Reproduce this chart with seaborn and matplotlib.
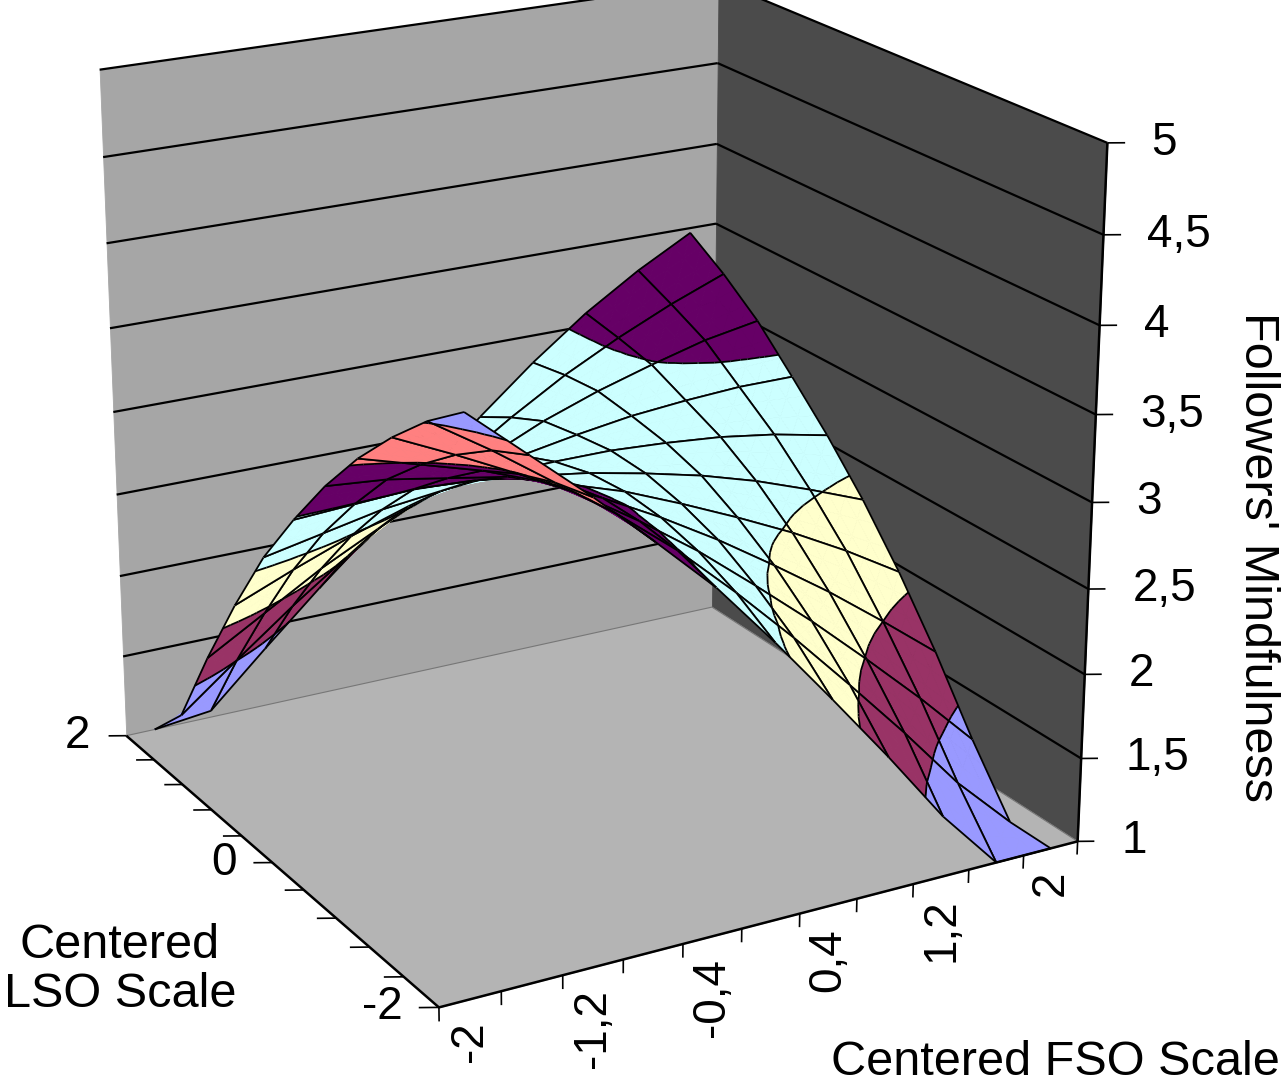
import numpy as np
import pandas as pd
import seaborn as sns
import matplotlib
matplotlib.use("Agg")
import matplotlib.pyplot as plt
from matplotlib.transforms import offset_copy
from mpl_toolkits.mplot3d import proj3d
from mpl_toolkits.mplot3d.art3d import Poly3DCollection, Line3DCollection

# categories of the two centered predictors
fso = [-2.0, -1.6, -1.2, -0.8, -0.4, 0.0, 0.4, 0.8, 1.2, 1.6, 2.0]
lso = [-2.0, -1.6, -1.2, -0.8, -0.4, 0.0, 0.4, 0.8, 1.2, 1.6, 2.0]

# followers' mindfulness: one row per LSO value (-2 .. 2), one column per FSO value (-2 .. 2)
mindfulness = [
    [4.19, 3.90, 3.61, 3.30, 2.98, 2.60, 2.20, 1.79, 1.36, 0.92, 0.46],
    [4.02, 3.80, 3.56, 3.32, 3.05, 2.74, 2.41, 2.06, 1.70, 1.32, 0.92],
    [3.81, 3.65, 3.48, 3.30, 3.08, 2.84, 2.57, 2.29, 1.99, 1.68, 1.35],
    [3.57, 3.47, 3.37, 3.24, 3.08, 2.90, 2.70, 2.48, 2.25, 2.00, 1.74],
    [3.29, 3.26, 3.20, 3.14, 3.03, 2.92, 2.78, 2.63, 2.47, 2.29, 2.09],
    [2.97, 2.99, 3.01, 2.99, 2.95, 2.90, 2.83, 2.75, 2.65, 2.53, 2.40],
    [2.62, 2.69, 2.76, 2.80, 2.83, 2.84, 2.84, 2.82, 2.79, 2.74, 2.67],
    [2.20, 2.34, 2.47, 2.58, 2.67, 2.75, 2.81, 2.86, 2.89, 2.91, 2.91],
    [1.74, 1.94, 2.14, 2.31, 2.47, 2.62, 2.77, 2.89, 2.99, 3.08, 3.14],
    [1.24, 1.51, 1.77, 2.01, 2.24, 2.45, 2.67, 2.87, 3.04, 3.19, 3.32],
    [0.70, 1.04, 1.36, 1.67, 1.96, 2.24, 2.55, 2.83, 3.08, 3.29, 3.47],
]

fso_ticklabels = ["-2", "-1,2", "-0,4", "0,4", "1,2", "2"]
lso_ticklabels = ["-2", "0", "2"]
z_ticks = [1.0, 1.5, 2.0, 2.5, 3.0, 3.5, 4.0, 4.5, 5.0]
z_ticklabels = ["1", "1,5", "2", "2,5", "3", "3,5", "4", "4,5", "5"]
band_colors = ["#9999FF", "#993366", "#FFFFCC", "#CCFFFF",
               "#660066", "#FF8080", "#9999FF", "#993366"]

sns.set_theme(style="white")
plt.rcParams["font.family"] = ["Liberation Sans", "DejaVu Sans"]
plt.rcParams["text.color"] = "black"

df = pd.DataFrame(mindfulness, index=lso, columns=fso)
zmin, zmax = z_ticks[0], z_ticks[-1]
Z = df.clip(zmin, zmax).to_numpy()

half = (fso[1] - fso[0]) / 2
x0, x1 = fso[0] - half, fso[-1] + half
y0, y1 = lso[0], lso[-1]

elev, azim = 20.4, -119.6
box = (1.1, 1.079, 1.107)

fig = plt.figure(figsize=(12.88, 10.87), dpi=100)
ax = fig.add_axes([-0.1924, -0.1895, 1.2655, 1.4995], projection="3d",
                  computed_zorder=False)
ax.set_axis_off()
ax.set_xlim(x0, x1)
ax.set_ylim(y0, y1)
ax.set_zlim(zmin, zmax)
ax.set_box_aspect(box, zoom=0.742)
ax.view_init(elev=elev, azim=azim)
ax.set_proj_type("persp", focal_length=0.5)

e, a = np.radians(elev), np.radians(azim)
eye = np.array([np.cos(e) * np.cos(a), np.cos(e) * np.sin(a), np.sin(e)])


def depth(p):
    n = np.array([(p[0] - x0) / (x1 - x0) * box[0],
                  (p[1] - y0) / (y1 - y0) * box[1],
                  (p[2] - zmin) / (zmax - zmin) * box[2]])
    return n @ eye


def add_polys(polys, colors, z, lw=0.6):
    pc = Poly3DCollection(polys, facecolors=colors, edgecolors=colors, linewidths=lw)
    pc.set_zorder(z)
    ax.add_collection3d(pc, autolim=False)


def add_lines(segs, z, lw=1.5, color="black"):
    lc = Line3DCollection(segs, colors=color, linewidths=lw)
    lc.set_zorder(z)
    ax.add_collection3d(lc, autolim=False)


def clip(poly, level, above):
    out = []
    for n in range(len(poly)):
        p, q = poly[n], poly[(n + 1) % len(poly)]
        p_in = p[2] >= level if above else p[2] <= level
        q_in = q[2] >= level if above else q[2] <= level
        if p_in:
            out.append(p)
        if p_in != q_in:
            t = (level - p[2]) / (q[2] - p[2])
            out.append(p + t * (q - p))
    return out


def crossing(tri, level):
    pts = []
    for n in range(3):
        p, q = tri[n], tri[(n + 1) % 3]
        if (p[2] - level) * (q[2] - level) < 0:
            t = (level - p[2]) / (q[2] - p[2])
            pts.append(p + t * (q - p))
    return pts if len(pts) == 2 else None


# walls and floor
add_polys([[(x0, y1, zmin), (x1, y1, zmin), (x1, y1, zmax), (x0, y1, zmax)]], ["#A6A6A6"], 1)
add_polys([[(x1, y0, zmin), (x1, y1, zmin), (x1, y1, zmax), (x1, y0, zmax)]], ["#4B4B4B"], 1.1)
add_polys([[(x0, y0, zmin), (x1, y0, zmin), (x1, y1, zmin), (x0, y1, zmin)]], ["#B4B4B4"], 1.2)
grid = []
for z in z_ticks[1:]:
    grid.append([(x0, y1, z), (x1, y1, z)])
    grid.append([(x1, y1, z), (x1, y0, z)])
add_lines(grid, 2, lw=1.6)
add_lines([[(x0, y1, zmin), (x1, y1, zmin), (x1, y0, zmin)]], 2, lw=0.8, color="#777777")

# surface, cell by cell, painted from back to front
k = 3
s = np.linspace(0, 1, k + 1)
S, T = np.meshgrid(s, s)
levels = z_ticks[1:-1]
cells = []
for i in range(len(lso) - 1):
    for j in range(len(fso) - 1):
        X = fso[j] + (fso[j + 1] - fso[j]) * S
        Y = lso[i] + (lso[i + 1] - lso[i]) * T
        ZZ = (Z[i, j] * (1 - S) * (1 - T) + Z[i, j + 1] * S * (1 - T)
              + Z[i + 1, j] * (1 - S) * T + Z[i + 1, j + 1] * S * T)
        P = np.dstack([X, Y, ZZ])
        polys, cols, segs = [], [], []
        for p in range(k):
            for q in range(k):
                for tri in ([P[p, q], P[p, q + 1], P[p + 1, q + 1]],
                            [P[p, q], P[p + 1, q + 1], P[p + 1, q]]):
                    for b, col in enumerate(band_colors):
                        lo, hi = zmin + 0.5 * b, zmin + 0.5 * (b + 1)
                        piece = clip(clip(tri, lo, True), hi, False)
                        if len(piece) >= 3:
                            polys.append([tuple(v) for v in piece])
                            cols.append(col)
                    for lv in levels:
                        c = crossing(tri, lv + 1e-6)
                        if c:
                            segs.append([tuple(c[0]), tuple(c[1])])
        corners = [P[0, 0], P[0, k], P[k, k], P[k, 0]]
        for n in range(4):
            segs.append([tuple(corners[n]), tuple(corners[(n + 1) % 4])])
        d = depth(np.mean(corners, axis=0))
        cells.append((d, polys, cols, segs))

cells.sort(key=lambda c: c[0])
for n, (d, polys, cols, segs) in enumerate(cells):
    add_polys(polys, cols, 10 + n * 0.01)
    add_lines(segs, 10 + n * 0.01 + 0.005, lw=1.3)

# axes, ticks and tick labels
add_lines([[(x0, y1, zmin), (x0, y0, zmin), (x1, y0, zmin)],
           [(x1, y0, zmin), (x1, y0, zmax)]], 50, lw=1.8)
ticks = []
for m in range(len(fso) + 1):
    xt = x0 + 2 * half * m
    ticks.append([(xt, y0, zmin), (xt, y0, zmin - 0.08)])
for lv in lso:
    ticks.append([(x0, lv, zmin), (x0 - 0.1, lv + 0.05, zmin)])
for zt in z_ticks:
    ticks.append([(x1, y0, zt), (x1 + 0.09, y0 - 0.045, zt)])
add_lines(ticks, 50, lw=1.2)

M = ax.get_proj()


def label(x, y, z, text, dx, dy, **kw):
    px, py, _ = proj3d.proj_transform(x, y, z, M)
    tr = offset_copy(ax.transData, fig=fig, x=dx, y=dy, units="dots")
    ax.text2D(px, py, text, transform=tr, fontsize=33, zorder=100, **kw)


for f, lab in zip(fso[::2], fso_ticklabels):
    label(f, y0, zmin, lab, 0, -22, rotation=90, ha="center", va="top")
for lv, lab in zip(lso[::5], lso_ticklabels):
    label(x0, lv, zmin, lab, -36, 0, ha="right", va="center")
for zt, lab in zip(z_ticks, z_ticklabels):
    label(x1, y0, zt, lab, 44, 0, ha="left", va="center")

fig.text(0.093, 0.1076, "Centered\nLSO Scale", ha="center", va="center",
         fontsize=35, linespacing=1.13)
fig.text(0.9938, 0.011, "Centered FSO Scale", ha="right", va="baseline", fontsize=35)
fig.text(0.9767, 0.4876, "Followers' Mindfulness", rotation=270, ha="center",
         va="center", fontsize=35)

fig.savefig("out.png", dpi=100)
